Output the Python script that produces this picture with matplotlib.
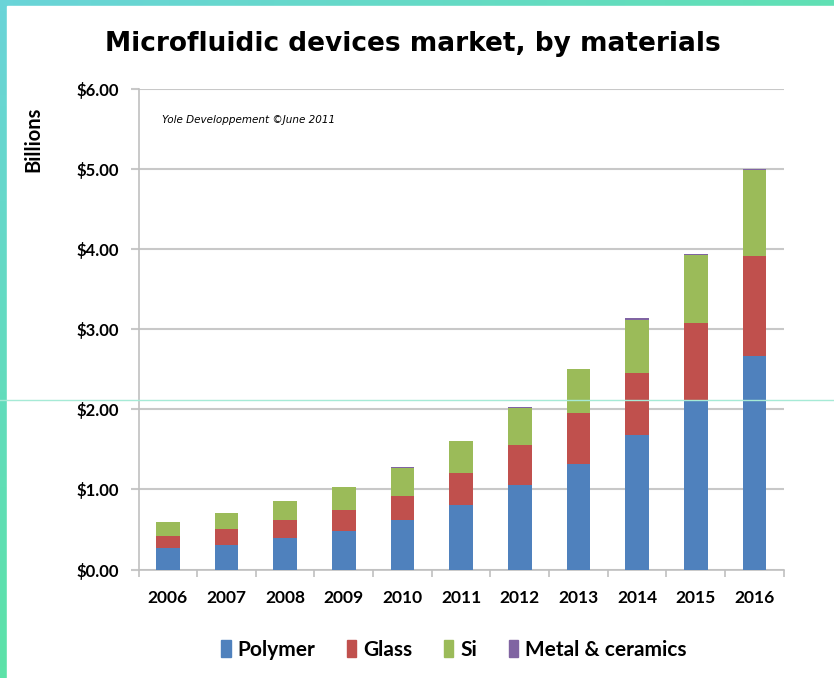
import numpy as np
import matplotlib.pyplot as plt
from matplotlib.patches import Rectangle, Patch
from matplotlib.lines import Line2D

years = ['2006', '2007', '2008', '2009', '2010', '2011',
         '2012', '2013', '2014', '2015', '2016']
polymer = [0.27, 0.31, 0.39, 0.48, 0.62, 0.80, 1.06, 1.32, 1.68, 2.11, 2.66]
glass = [0.15, 0.19, 0.23, 0.26, 0.30, 0.41, 0.50, 0.63, 0.77, 0.97, 1.25]
si = [0.17, 0.20, 0.23, 0.29, 0.35, 0.39, 0.46, 0.55, 0.67, 0.85, 1.08]
metal = [0.005, 0.005, 0.005, 0.005, 0.005, 0.005, 0.005, 0.005, 0.02, 0.01, 0.01]

series = [('Polymer', polymer, '#4f81bd'),
          ('Glass', glass, '#c0504d'),
          ('Si', si, '#9bbb59'),
          ('Metal & ceramics', metal, '#8064a2')]

W, H = 834, 678
fig = plt.figure(figsize=(W / 100, H / 100), dpi=100)

# teal/green frame behind the white slide area
bg = fig.add_axes([0, 0, 1, 1], zorder=-5)
gx, gy = np.meshgrid(np.linspace(0, 1, 64), np.linspace(0, 1, 64))
c_tl = np.array([0x6a, 0xd4, 0xd8]) / 255
c_tr = np.array([0x60, 0xe0, 0xb4]) / 255
c_bl = np.array([0x5c, 0xe2, 0xa8]) / 255
grad = (c_tl[None, None, :] * (1 - gx[..., None]) * (1 - gy[..., None])
        + c_tr[None, None, :] * gx[..., None] * (1 - gy[..., None])
        + c_bl[None, None, :] * gy[..., None])
grad = np.clip(grad / np.maximum(1, grad.max()), 0, 1)
bg.imshow(grad, extent=[0, W, H, 0], aspect='auto')
bg.add_patch(Rectangle((7, 6), W, H, color='white'))
bg.set_xlim(0, W)
bg.set_ylim(H, 0)
bg.axis('off')

ax = fig.add_axes([138.5 / W, 1 - 569.5 / H, (783.8 - 138.5) / W, (569.5 - 89) / H])
x = np.arange(len(years))
bottom = np.zeros(len(years))
for name, vals, col in series:
    ax.bar(x, vals, 0.4, bottom=bottom, color=col, label=name, zorder=3)
    bottom += np.array(vals)

ax.set_xlim(-0.5, len(years) - 0.5)
ax.set_ylim(0, 6)
ax.set_yticks(np.arange(0, 7, 1))
ax.set_yticklabels(['$%.2f' % v for v in range(7)],
                   fontfamily='Lato', fontweight='bold', fontsize=12)
ax.set_xticks(x)
ax.set_xticklabels(years, fontfamily='Lato', fontweight='bold', fontsize=12.5)
ax.set_xticks(np.arange(-0.5, len(years)), minor=True)
ax.tick_params(axis='x', which='major', length=0, pad=15)
ax.tick_params(axis='x', which='minor', length=5, color='#c0c0c0', width=1.2)
ax.tick_params(axis='y', length=6, color='#c8c8c8', width=1.5, pad=8)
ax.grid(axis='y', color='#c8c8c8', linewidth=1.5, zorder=0)
for s in ['top', 'right']:
    ax.spines[s].set_visible(False)
for s in ['left', 'bottom']:
    ax.spines[s].set_color('#c0c0c0')
    ax.spines[s].set_linewidth(1.2)

ax.text(0.037, 0.935, 'Yole Developpement \u00a9June 2011', transform=ax.transAxes,
        fontsize=7.5, fontstyle='italic', va='center', ha='left')

fig.text(413 / W, 1 - 44 / H, 'Microfluidic devices market, by materials',
         ha='center', va='center', fontsize=19, fontweight='bold', fontfamily='DejaVu Sans')
fig.text(33 / W, 1 - 139 / H, 'Billions', rotation=90, ha='center', va='center',
         fontsize=14.5, fontweight='bold', fontfamily='Lato')

handles = [Patch(color=c, label=n) for n, _, c in series]
fig.legend(handles=handles, loc='center', bbox_to_anchor=(454 / W, 1 - 650 / H), ncol=4,
           frameon=False, prop={'family': 'Lato', 'weight': 'bold', 'size': 15},
           handlelength=0.45, handleheight=0.9, handletextpad=0.35, columnspacing=1.5)

# thin scan line across the slide
fig.add_artist(Line2D([0, 1], [1 - 399.5 / H] * 2, transform=fig.transFigure,
                      color='#a6ead6', linewidth=1, zorder=10))

fig.savefig('out.png', dpi=100)
